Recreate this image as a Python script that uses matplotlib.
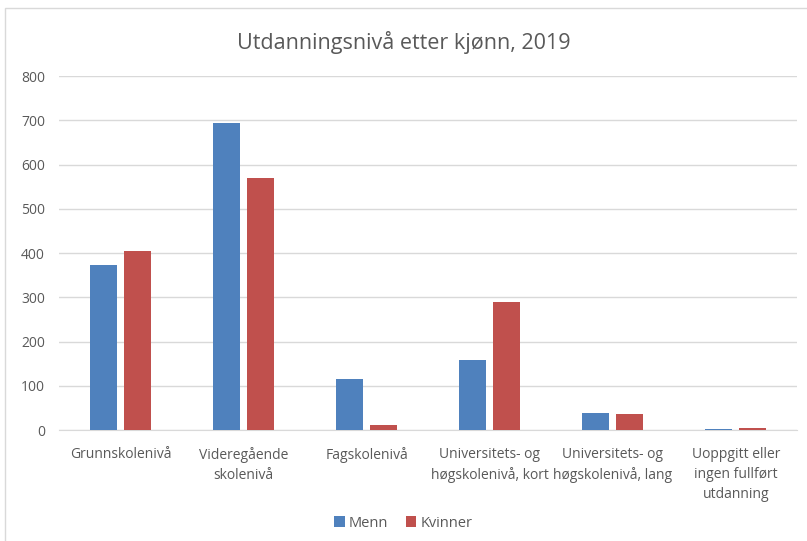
import numpy as np
import matplotlib.pyplot as plt
from matplotlib.patches import Rectangle

categories = ["Grunnskolenivå", "Videregående\nskolenivå", "Fagskolenivå",
              "Universitets- og\nhøgskolenivå, kort", "Universitets- og\nhøgskolenivå, lang",
              "Uoppgitt eller\ningen fullført\nutdanning"]
menn = [373, 694, 115, 158, 38, 3]
kvinner = [404, 569, 11, 289, 36, 5]

plt.rcParams['font.family'] = ['Open Sans', 'DejaVu Sans']
grey = '#595959'

fig = plt.figure(figsize=(8.07, 5.41), dpi=100)
ax = fig.add_axes([0.073, 0.205, 0.915, 0.6545])

# chart border
fig.patches.append(Rectangle((5 / 807, -0.01), 1.1, 1 - 8 / 541 + 0.01, transform=fig.transFigure,
                             fill=False, edgecolor='#d9d9d9', linewidth=1))

x = np.arange(len(categories))
w = 0.22
gap = 0.057
ax.bar(x - (w + gap) / 2, menn, w, color='#4F81BD', label='Menn', zorder=3)
ax.bar(x + (w + gap) / 2, kvinner, w, color='#C0504D', label='Kvinner', zorder=3)

ax.set_xlim(-0.5, len(categories) - 0.5)
ax.set_ylim(0, 800)
ax.set_yticks(range(0, 801, 100))
ax.yaxis.grid(True, color='#d9d9d9', linewidth=1, zorder=0)
ax.set_xticks(x)
ax.set_xticklabels(categories, fontsize=10, color=grey, linespacing=1.45)
ax.tick_params(axis='x', length=0, pad=12)
ax.tick_params(axis='y', length=0, pad=10, labelsize=10, labelcolor=grey)
for s in ['top', 'right', 'left']:
    ax.spines[s].set_visible(False)
ax.spines['bottom'].set_color('#d9d9d9')

fig.text(0.5, 0.922, "Utdanningsnivå etter kjønn, 2019", ha='center', va='center',
         fontsize=15.5, color=grey)
fig.legend(loc='center', bbox_to_anchor=(0.5, 0.033), ncol=2, frameon=False,
           fontsize=10.5, labelcolor=grey, handlelength=0.7, handleheight=0.7,
           handletextpad=0.3, columnspacing=1.2)

fig.savefig('out.png', dpi=100)
